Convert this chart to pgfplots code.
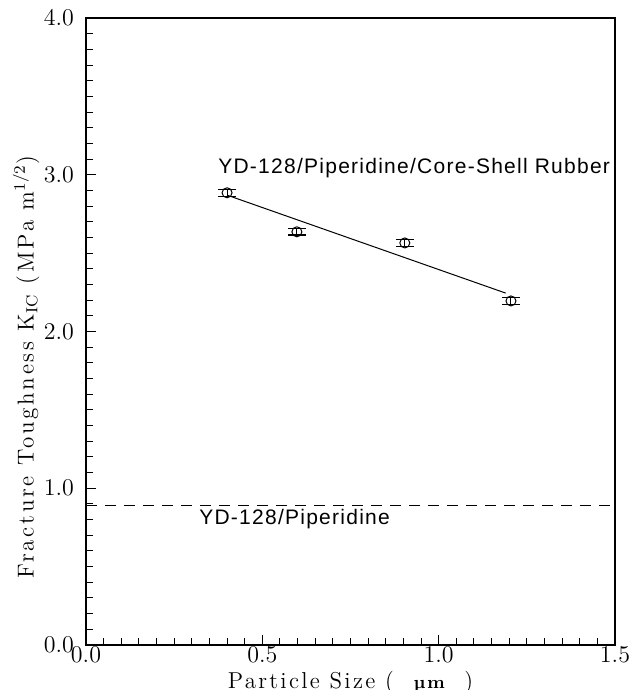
\documentclass[border=0pt]{standalone}
\usepackage{fontspec}
\setmainfont{Latin Modern Roman}
\setsansfont{Liberation Sans}
\usepackage{pgfplots}
\pgfplotsset{compat=1.18}
\begin{document}
\begin{tikzpicture}
\begin{axis}[
scale only axis,
width=264.5pt,
height=313.5pt,
xmin=0, xmax=1.5,
ymin=0, ymax=4,
xtick={0,0.5,1.0,1.5},
ytick={0,1,2,3,4},
minor x tick num=9,
minor y tick num=9,
/pgf/number format/fixed,
/pgf/number format/fixed zerofill,
/pgf/number format/precision=1,
tick label style={font=\fontsize{11.5}{12}\selectfont},
x tick label style={yshift=2.5pt},
y tick label style={xshift=-2.5pt},
tick align=inside,
xtick pos=left,
ytick pos=left,
major tick length=5pt,
minor tick length=3.5pt,
every tick/.style={black,line width=0.5pt},
axis line style={line width=0.6pt},
xlabel={{\addfontfeatures{LetterSpace=10}Particle Size (\ \ {\small\bfseries µm}\ \ )}},
ylabel={{\addfontfeatures{LetterSpace=12}Fracture Toughness K$_{\mathrm{IC}}$ (MPa m$^{1/2}$)}},
label style={font=\fontsize{11.5}{13}\selectfont},
xlabel style={at={(axis description cs:0.5,-0.0686)}, anchor=base},
ylabel style={at={(axis description cs:-0.113,0.443)}, anchor=center},
]
\addplot[black, line width=0.5pt] coordinates {(0.40,2.87) (1.19,2.245)};
\addplot[black, only marks, mark=o, mark size=2.5pt, mark options={line width=0.5pt},
  error bars/.cd, y dir=both, y explicit,
  error bar style={line width=0.5pt},
  error mark options={rotate=90, mark size=4.5pt, line width=0.7pt}]
  table[x=x, y=y, y error=e] {
x y e
0.400 2.885 0.022
0.598 2.636 0.02
0.904 2.565 0.022
1.205 2.195 0.022
};
\addplot[black, line width=0.5pt, dash pattern=on 5.5pt off 4pt] coordinates {(0,0.893) (1.5,0.893)};
\node[anchor=base west, inner sep=0pt, font=\sffamily\fontsize{10.5}{12}\selectfont\addfontfeatures{LetterSpace=6}] at (axis cs:0.374,3.01) {YD-128/Piperidine/Core-Shell Rubber};
\node[anchor=base west, inner sep=0pt, font=\sffamily\fontsize{10.5}{12}\selectfont\addfontfeatures{LetterSpace=6}] at (axis cs:0.32,0.766) {YD-128/Piperidine};
\end{axis}
\pgfresetboundingbox
\path (current axis.south west) ++(-43pt,-22.5pt) rectangle ([shift={(7.5pt,9pt)}]current axis.north east);
\end{tikzpicture}
\end{document}
